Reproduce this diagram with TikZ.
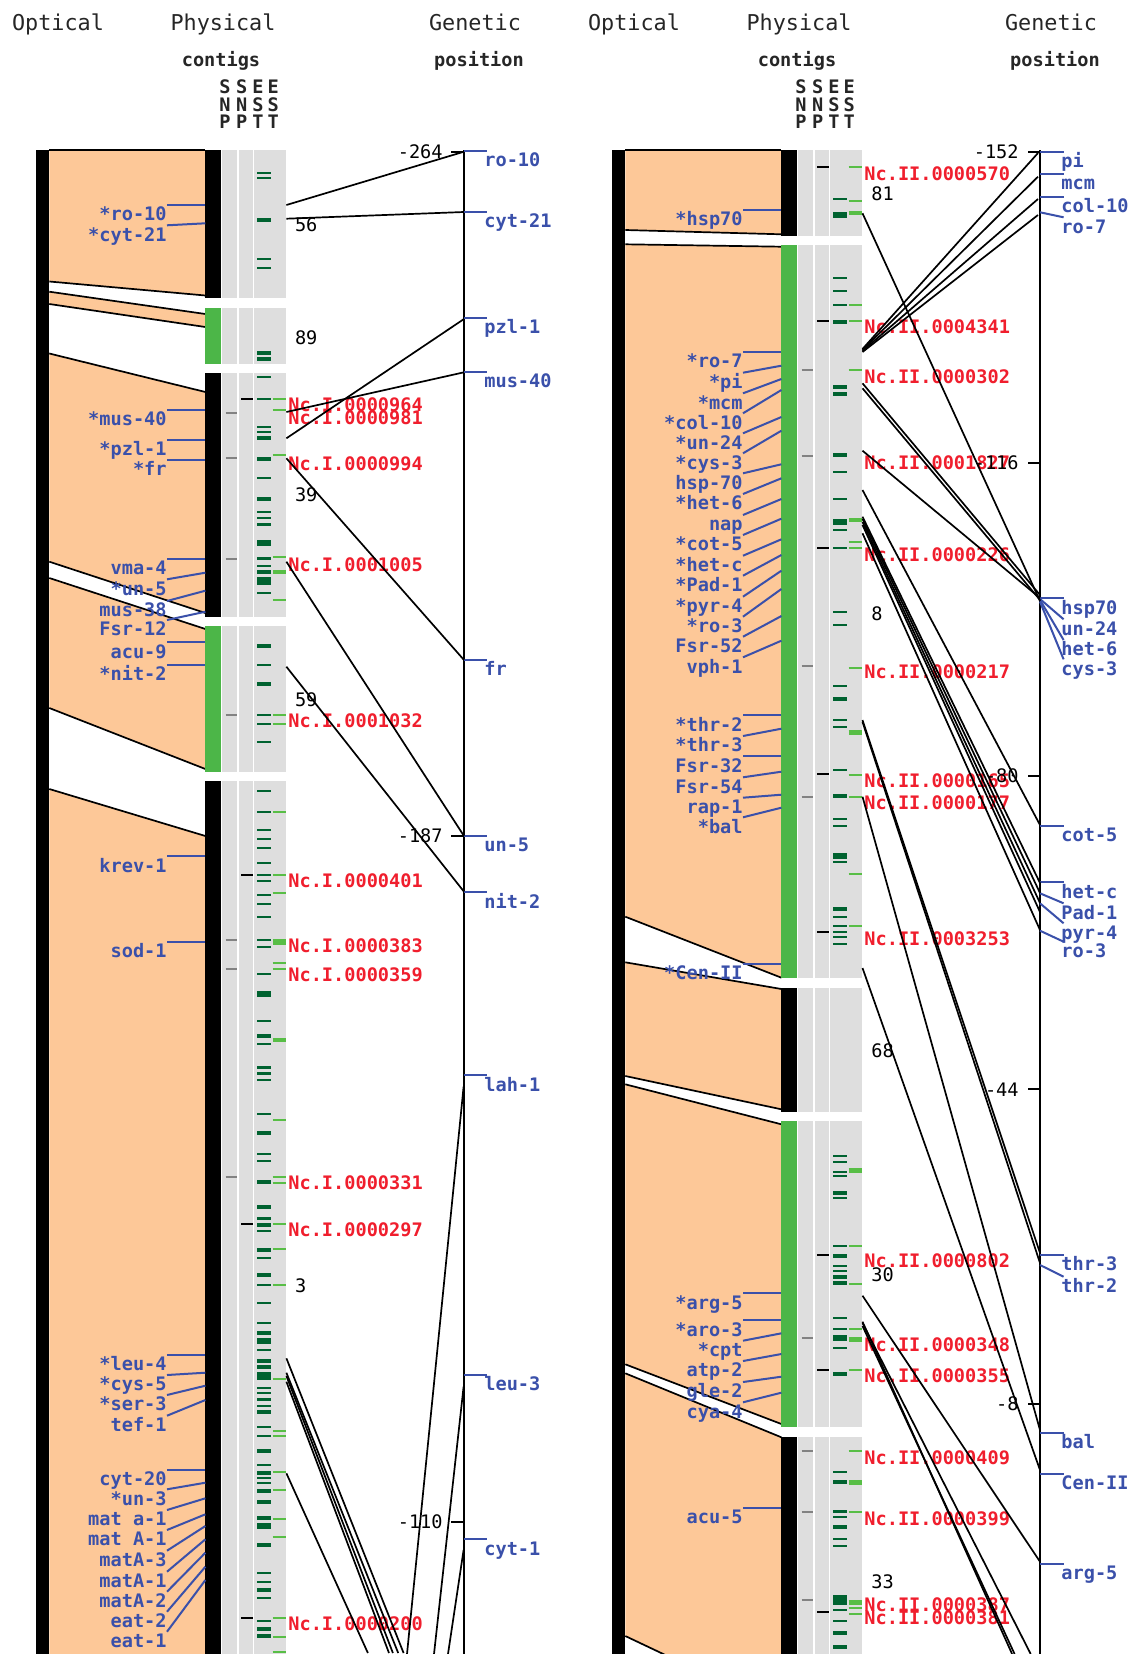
\documentclass[tikz,border=0pt]{standalone}
\usepackage{fontspec}
\setmainfont{DejaVu Sans Mono}
\usepackage{xcolor}
\usepackage{tikz}
\definecolor{optorange}{RGB}{253,200,152}
\definecolor{contiggreen}{RGB}{76,182,72}
\definecolor{snpgrey}{RGB}{222,222,222}
\definecolor{tickgrey}{RGB}{130,130,130}
\definecolor{estdark}{RGB}{0,98,48}
\definecolor{estlight}{RGB}{88,190,70}
\definecolor{genblue}{RGB}{58,80,170}
\definecolor{ncred}{RGB}{240,30,45}

\begin{document}
\begin{tikzpicture}[
        x=0.5pt, y=-0.5pt,
        title/.style={font=\fontsize{10.9}{11}\selectfont, inner sep=0pt, text=black!85, text height=8pt, text depth=2pt},
        subtitle/.style={font=\fontsize{9.3}{10}\bfseries\selectfont, inner sep=0pt, text=black!85, text height=7pt, text depth=2pt},
        label/.style={font=\fontsize{9.3}{10}\bfseries\selectfont, inner sep=0pt, text height=7.75pt, text depth=1pt},
        opt/.style={label, text=genblue, anchor=north east},
        gen/.style={label, text=genblue, anchor=north west},
        nc/.style={label, text=ncred, anchor=west},
        num/.style={label, font=\fontsize{9.3}{10}\selectfont, text=black, anchor=west},
        scalenum/.style={label, font=\fontsize{9.3}{10}\selectfont, text=black, anchor=east},
        leader/.style={draw=genblue, line width=1pt},
        mapline/.style={draw=black, line width=0.85pt},
        snptick/.style={draw=tickgrey, line width=1pt},
        blacktick/.style={draw=black, line width=1pt},
        darktick/.style={draw=estdark, line width=1pt},
        lighttick/.style={draw=estlight, line width=1pt}
    ]
        \clip (0,0) rectangle (1130,1654);
        \fill[white] (0,0) rectangle (1130,1654);

        % Left panel
        \begin{scope}
        % Headers
        \node[title] (optL) at (58,24) {Optical};
        \node[title] (phyL) at (223,24) {Physical};
        \node[title] (genL) at (475,24) {Genetic};
        \node[subtitle] (conL) at (221,61) {contigs};
        \node[subtitle] (posL) at (479,61) {position};
        \foreach \x/\a/\b/\c [count=\i] in {225/S/N/P, 241.8/S/N/P, 257.9/E/S/T, 273.2/E/S/T} {
            \node[subtitle] (colLa\i) at (\x,88) {\a};
            \node[subtitle] (colLb\i) at (\x,106) {\b};
            \node[subtitle] (colLc\i) at (\x,123) {\c};
        }

        % Optical map
        \fill (36.4,150) rectangle (49.3,1654);
        \foreach \ya/\yb/\yc/\yd in {150/150/281.5/295.5, 291.7/314/304/327, 353.5/392/561.7/613, 578/629/708/769, 789/836/1720/1720} {
            \fill[optorange] (49.3,\ya) -- (205.4,\yb) -- (205.4,\yd) -- (49.3,\yc) -- cycle;
            \draw[mapline] (49.3,\ya) -- (205.4,\yb);
            \draw[mapline] (49.3,\yc) -- (205.4,\yd);
        }

        % Contigs
        \foreach \ya/\yb/\col in {150/298.3/black, 308/364/contiggreen, 373.3/616.7/black, 625.7/772/contiggreen, 781/1654/black} {
            \fill[\col] (205.4,\ya) rectangle (221.4,\yb);
            \foreach \xa/\xb in {222/237, 239/252.5, 254.3/286.4}
                \fill[snpgrey] (\xa,\ya) rectangle (\xb,\yb);
        }

        % SNP and EST ticks
        \foreach \y in {412.7,457.7,559,714.7,940,969.3,1176.7}
            \draw[snptick] (225.7,\y) -- (237,\y);
        \foreach \y in {399,874.7,1224,1618.3}
            \draw[blacktick] (241,\y) -- (252.5,\y);
        \foreach \y in {173.3,178.3,259,268.3,376.7,399,426.7,431.7,478.3,511.7,518.3,565.7,593,665,714.7,723.7,741.7,791.3,811.7,830,838.7,847.7,863.3,874.7,881.3,895,904,917.3,940,946.7,974,1021.3,1043.7,1079.7,1113.7,1154.3,1161,1230.7,1257.7,1284.7,1302.7,1323,1350,1388,1392.7,1406,1426.7,1435.7,1465.3,1478.3,1483.3,1573.3,1582.3,1598,1620.7}
            \draw[darktick] (257,\y) -- (270.7,\y);
        \foreach \y/\h in {220/4,353.3/4,359.3/4,438.3/4,459/4,499.3/4,524.3/3,543.3/6,558/3,571.7/4,581/8,646/4,684.3/4,994/6,1035.7/4,1067.3/3,1073.3/3,1133/4,1182.3/4,1207.3/4,1218.3/3,1225/4,1250/4,1274.7/4,1333.3/4,1341.3/6,1360.7/4,1367/4,1376/8,1399/3,1412.3/4,1450.7/4,1473.3/4,1491/4,1502.3/4,1518.3/4,1526/6,1545.3/4,1590.3/4,1628.7/4,1635.7/4}
            \draw[darktick, line width=\h*0.5pt] (257,\y) -- (270.7,\y);
        \foreach \y in {399,410.3,455.3,556.7,600,714.7,723.7,811.7,874.7,892.7,962.7,969,1120.3,1176.7,1183.3,1224,1249,1284.7,1379.3,1431,1435.7,1471.7,1490,1519,1537.3,1618.3,1636.7,1652}
            \draw[lighttick] (272.5,\y) -- (286.4,\y);
        \foreach \y/\h in {571.7/4,942.3/6,1040/4}
            \draw[lighttick, line width=\h*0.5pt] (272.5,\y) -- (286.4,\y);

        % Optical labels
        \foreach \t/\ya/\yb [count=\i] in {*ro-10/205/205, *cyt-21/225.3/223.3, *mus-40/410/410, *pzl-1/440/440, *fr/460/460, vma-4/559/559, *un-5/579.3/572.7, mus-38/601/590.7, Fsr-12/620/611.7, acu-9/642.3/642.3, *nit-2/665/665, krev-1/856.3/856.3, sod-1/942/942, *leu-4/1354.7/1354.7, *cys-5/1375/1372.7, *ser-3/1395/1385.7, tef-1/1415.7/1400, cyt-20/1469.7/1469.7, *un-3/1489.3/1482.7, mat a-1/1510/1498.3, mat A-1/1530/1514.3, matA-3/1550.7/1526, matA-1/1571.7/1539.3, matA-2/1591.7/1552.7, eat-2/1611.7/1566.7, eat-1/1631.7/1580} {
            \node[opt] (optgeneL\i) at (167,\ya) {\t};
            \coordinate (optbarL\i) at (205.4,\yb);
            \draw[leader] (optgeneL\i.north east) -- (optbarL\i);
        }

        % Contig names and clone numbers
        \foreach \t/\y [count=\i] in {0000964/405, 0000981/418, 0000994/463.3, 0001005/565, 0001032/720.7, 0000401/880.7, 0000383/946, 0000359/975, 0000331/1182.7, 0000297/1230, 0000200/1624}
            \node[nc] (ncL\i) at (288,\y) {Nc.I.\t};
        \foreach \t/\y [count=\i] in {56/225, 89/337.3, 39/495, 59/700, 3/1286}
            \node[num] (numL\i) at (294.6,\y) {\t};

        % Genetic map
        \draw[mapline] (464,150) -- (464,1654);
        \foreach \t/\y [count=\i] in {-264/152, -187/836, -110/1521.7} {
            \node[scalenum] (scaleL\i) at (443,\y) {\t};
            \draw[blacktick] (451,\y) -- (464,\y);
        }
        \foreach \t/\ya/\yb [count=\i] in {ro-10/151/151, cyt-21/212/212, pzl-1/317.7/317.7, mus-40/371.7/371.7, fr/660/660, un-5/836/836, nit-2/892.3/892.3, lah-1/1075.3/1075.3, leu-3/1375/1375, cyt-1/1539.3/1539.3} {
            \node[gen] (gengeneL\i) at (484,\yb) {\t};
            \coordinate (axisL\i) at (464,\ya);
            \coordinate (tipL\i) at (487,\yb);
            \draw[leader] (axisL\i) -- (tipL\i);
        }

        % Connections
        \foreach \ya/\xb/\yb [count=\i] in {205/464/151.7, 218.7/464/212, 438.3/464/319, 412/464/372.3, 458.3/464/660, 561.7/464/836, 666.7/464/891.7, 1358.3/403.6/1653, 1372.7/398.2/1653, 1376/392.9/1653, 1381.7/389/1653, 1473.3/367.9/1653} {
            \coordinate (estL\i) at (286.4,\ya);
            \coordinate (linkL\i) at (\xb,\yb);
            \draw[mapline] (estL\i) -- (linkL\i);
        }
        \coordinate (lahA) at (463.6,1086.7);
        \coordinate (lahB) at (407,1654);
        \draw[mapline] (lahA) -- (lahB);
        \coordinate (leuA) at (463.6,1386.7);
        \coordinate (leuB) at (434,1654);
        \draw[mapline] (leuA) -- (leuB);
        \coordinate (cytA) at (463.6,1550);
        \coordinate (cytB) at (448,1654);
        \draw[mapline] (cytA) -- (cytB);
        \end{scope}

        % Right panel
        \begin{scope}[shift={(576,0)}]
        % Headers
        \node[title] (optR) at (58,24) {Optical};
        \node[title] (phyR) at (223,24) {Physical};
        \node[title] (genR) at (475,24) {Genetic};
        \node[subtitle] (conR) at (221,61) {contigs};
        \node[subtitle] (posR) at (479,61) {position};
        \foreach \x/\a/\b/\c [count=\i] in {225/S/N/P, 241.8/S/N/P, 257.9/E/S/T, 273.2/E/S/T} {
            \node[subtitle] (colRa\i) at (\x,88) {\a};
            \node[subtitle] (colRb\i) at (\x,106) {\b};
            \node[subtitle] (colRc\i) at (\x,123) {\c};
        }

        % Optical map
        \fill (36.4,150) rectangle (49.3,1654);
        \foreach \ya/\yb/\yc/\yd in {150/150/230/234.3, 244.3/246.7/916.7/977.7, 962.3/989/1076/1109.3, 1084.3/1124.3/1364.3/1424, 1373.3/1437.3/1636/1710} {
            \fill[optorange] (49.3,\ya) -- (205.4,\yb) -- (205.4,\yd) -- (49.3,\yc) -- cycle;
            \draw[mapline] (49.3,\ya) -- (205.4,\yb);
            \draw[mapline] (49.3,\yc) -- (205.4,\yd);
        }

        % Contigs
        \foreach \ya/\yb/\col in {150/236/black, 245/978.3/contiggreen, 987.7/1111.7/black, 1121/1427.3/contiggreen, 1436.7/1654/black} {
            \fill[\col] (205.4,\ya) rectangle (221.4,\yb);
            \foreach \xa/\xb in {222/237, 239/252.5, 254.3/286.4}
                \fill[snpgrey] (\xa,\ya) rectangle (\xb,\yb);
        }

        % SNP and EST ticks
        \foreach \y in {370.3,456,666,797,1338.3,1451.3,1512.3,1600.3}
            \draw[snptick] (225.7,\y) -- (237,\y);
        \foreach \y in {167,320.7,548.3,774,932,1255,1370,1611.7}
            \draw[blacktick] (241,\y) -- (252.5,\y);
        \foreach \y in {199,277.7,291.3,305,471.7,499,530.3,548.3,612,625.3,686.3,720,727,770,819.3,826,862.3,916.7,925.7,932.3,937.3,943.7,1155.7,1162.3,1172,1176,1198.3,1246,1266,1270.7,1318.3,1329.3,1347.7,1471.7,1516.7,1539.3,1546,1609.7,1620.7}
            \draw[darktick] (257,\y) -- (270.7,\y);
        \foreach \y/\h in {215/6,322/4,387.3/4,394/4,455/4,521.7/6,699/4,796/4,855.7/6,908.7/4,1193.3/4,1256/4,1276.7/4,1283.3/4,1338.3/6,1373.7/4,1482/4,1511.7/3,1527/4,1600.3/10,1633.3/4,1646.7/4}
            \draw[darktick, line width=\h*0.5pt] (257,\y) -- (270.7,\y);
        \foreach \y in {167,201,305,320.7,370.3,542,548.3,668.3,774.7,797,873.7,925.7,1246,1284.3,1329.3,1370,1451.3,1512.3,1608,1613.7}
            \draw[lighttick] (272.5,\y) -- (286.4,\y);
        \foreach \y/\h in {213.3/4,520.3/4,732.7/5,1170.3/5,1339.3/5,1482/5,1602.3/5}
            \draw[lighttick, line width=\h*0.5pt] (272.5,\y) -- (286.4,\y);

        % Optical labels
        \foreach \t/\ya/\yb [count=\i] in {*hsp70/210/210, *ro-7/352/352, *pi/372.7/365.7, *mcm/393.3/379, *col-10/413.3/390, *un-24/433.3/417, *cys-3/453.3/430.7, hsp-70/473.3/464.3, *het-6/494/478.3, nap/515/499, *cot-5/535/518.7, *het-c/555.7/539.3, *Pad-1/575.7/555, *pyr-4/596.7/570.7, *ro-3/616.7/589, Fsr-52/636.7/616, vph-1/657.3/640.7, *thr-2/715.3/715.3, *thr-3/736/728.7, Fsr-32/756.3/756.3, Fsr-54/777.3/771.7, rap-1/797.7/794.7, *bal/817.3/807.7, *Cen-II/964/964, *arg-5/1293.3/1293.3, *aro-3/1320.3/1320.3, *cpt/1340.7/1333.3, atp-2/1361/1354, gle-2/1382/1376.7, cya-4/1402.3/1392.7, acu-5/1507.7/1507.7} {
            \node[opt] (optgeneR\i) at (167,\ya) {\t};
            \coordinate (optbarR\i) at (205.4,\yb);
            \draw[leader] (optgeneR\i.north east) -- (optbarR\i);
        }

        % Contig names and clone numbers
        \foreach \t/\y [count=\i] in {0000570/173.3, 0004341/326.7, 0000302/376.7, 0001827/462.3, 0000226/555, 0000217/671.7, 0000165/780.7, 0000177/802.7, 0003253/938.3, 0000802/1261, 0000348/1345, 0000355/1376, 0000409/1457.3, 0000399/1518.3, 0000387/1605, 0000381/1617.3}
            \node[nc] (ncR\i) at (288,\y) {Nc.II.\t};
        \foreach \t/\y [count=\i] in {81/193.3, 8/613.3, 68/1050.7, 30/1274.3, 33/1581.7}
            \node[num] (numR\i) at (295,\y) {\t};

        % Genetic map
        \draw[mapline] (464,150) -- (464,1654);
        \foreach \t/\y [count=\i] in {-152/152, -116/462.7, -80/776, -44/1089.3, -8/1404} {
            \node[scalenum] (scaleR\i) at (443,\y) {\t};
            \draw[blacktick] (452,\y) -- (464,\y);
        }
        \foreach \t/\ya/\yb [count=\i] in {pi/151.7/151.7, mcm/174/174, col-10/196.7/196.7, ro-7/212.3/217.3, hsp70/598.3/598.3, un-24/599/619.3, het-6/600/640, cys-3/601.7/659.3, cot-5/826/826, het-c/882.3/882.3, Pad-1/893.3/903.3, pyr-4/903.3/923.3, ro-3/930.7/941.7, thr-3/1255/1255, thr-2/1265/1276.7, bal/1432.7/1432.7, Cen-II/1474/1474, arg-5/1564/1564} {
            \node[gen] (gengeneR\i) at (485,\yb) {\t};
            \coordinate (axisR\i) at (464,\ya);
            \coordinate (tipR\i) at (487.6,\yb);
            \draw[leader] (axisR\i) -- (tipR\i);
        }

        % Connections
        \foreach \ya/\xb/\yb [count=\i] in {349/462/153, 350/462/176.7, 351/462/199, 352/462/215, 213.3/464/601, 383.3/464/595, 388.3/464/600, 450.7/464/598, 490/464/825, 516.7/464/883, 519/464/893, 522/464/903, 525/464/912, 533.3/464/930, 720/464/1253, 722/464/1263, 796.7/464/1430, 968/464/1470, 1295.7/464/1561.7, 1321.7/436.1/1654, 1323/454.7/1654, 1326/438.6/1654} {
            \coordinate (estR\i) at (286.5,\ya);
            \coordinate (linkR\i) at (\xb,\yb);
            \draw[mapline] (estR\i) -- (linkR\i);
        }
        \end{scope}
\end{tikzpicture}
\end{document}
